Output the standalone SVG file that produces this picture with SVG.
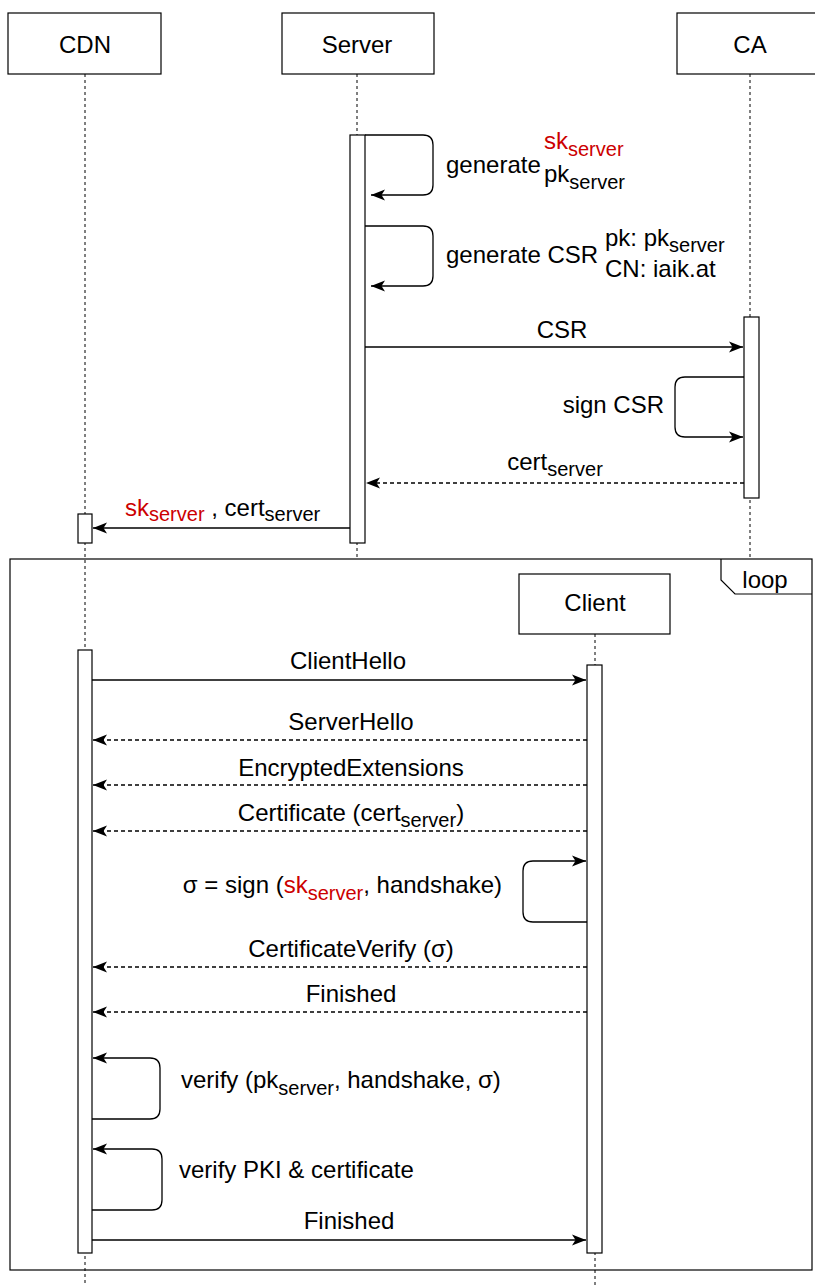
<svg xmlns="http://www.w3.org/2000/svg" width="815" height="1285" viewBox="0 0 815 1285">
  <style>
    text { font-family: "Liberation Sans", Arial, Helvetica, sans-serif; font-size: 24px; fill: #000; }
    .mid { text-anchor: middle; }
    .end { text-anchor: end; }
    .sub { font-size: 20px; }
    .red { fill: #cc0000; }
    .box { fill: #fff; stroke: #000; stroke-width: 1.2; }
    .life { fill: none; stroke: #000; stroke-width: 1; stroke-dasharray: 3 3; }
    .msg { fill: none; stroke: #000; stroke-width: 1.3; }
    .ret { fill: none; stroke: #000; stroke-width: 1.3; stroke-dasharray: 4 3; }
  </style>
  <defs>
    <marker id="arrow" markerUnits="userSpaceOnUse" markerWidth="16" markerHeight="14" refX="15" refY="7" orient="auto">
      <path d="M1,1.5 L15,7 L1,12.5 L4.5,7 Z" fill="#000"/>
    </marker>
  </defs>

  <rect width="815" height="1285" fill="#fff"/>

  <!-- lifelines -->
  <g id="lifelines">
    <line class="life" x1="85" y1="74" x2="85" y2="1285"/>
    <line class="life" x1="357" y1="74" x2="357" y2="558"/>
    <line class="life" x1="750" y1="74" x2="750" y2="558"/>
    <line class="life" x1="595" y1="634" x2="595" y2="1285"/>
  </g>

  <!-- participants -->
  <g id="cdn">
    <rect class="box" x="8" y="13" width="153" height="61"/>
    <text class="mid" x="85" y="53">CDN</text>
  </g>
  <g id="server">
    <rect class="box" x="282" y="13" width="152" height="61"/>
    <text class="mid" x="357" y="53">Server</text>
  </g>
  <g id="ca">
    <rect class="box" x="677" y="13" width="140" height="61"/>
    <text class="mid" x="750" y="53">CA</text>
  </g>

  <!-- loop fragment -->
  <g id="loop">
    <rect x="10" y="559" width="802" height="711" fill="none" stroke="#000" stroke-width="1.2"/>
    <path d="M721,559 V580 L735,594 H812" fill="none" stroke="#000" stroke-width="1.2"/>
    <text class="mid" x="765" y="588">loop</text>
  </g>

  <g id="client">
    <rect class="box" x="519" y="574" width="151" height="60"/>
    <text class="mid" x="595" y="611">Client</text>
  </g>

  <!-- activation bars -->
  <g id="activations">
    <rect class="box" x="350" y="135" width="15" height="408"/>
    <rect class="box" x="744" y="317" width="15" height="181"/>
    <rect class="box" x="78" y="514" width="14" height="29"/>
    <rect class="box" x="78" y="650" width="14" height="603"/>
    <rect class="box" x="587" y="665" width="15" height="588"/>
  </g>

  <!-- messages -->
  <g id="connectors">
    <path class="msg" d="M365,135 H423 Q433,135 433,145 V185 Q433,195 423,195 H371" marker-end="url(#arrow)"/>
    <path class="msg" d="M365,226 H423 Q433,226 433,236 V276 Q433,286 423,286 H371" marker-end="url(#arrow)"/>
    <line class="msg" x1="365" y1="347" x2="743" y2="347" marker-end="url(#arrow)"/>
    <path class="msg" d="M744,377 H685 Q675,377 675,387 V427 Q675,437 685,437 H743" marker-end="url(#arrow)"/>
    <line class="ret" x1="744" y1="483" x2="366" y2="483" marker-end="url(#arrow)"/>
    <line class="msg" x1="350" y1="528" x2="93" y2="528" marker-end="url(#arrow)"/>

    <line class="msg" x1="92" y1="680" x2="586" y2="680" marker-end="url(#arrow)"/>
    <line class="ret" x1="587" y1="740" x2="93" y2="740" marker-end="url(#arrow)"/>
    <line class="ret" x1="587" y1="785" x2="93" y2="785" marker-end="url(#arrow)"/>
    <line class="ret" x1="587" y1="831" x2="93" y2="831" marker-end="url(#arrow)"/>
    <path class="msg" d="M587,922 H533 Q523,922 523,912 V871 Q523,861 533,861 H586" marker-end="url(#arrow)"/>
    <line class="ret" x1="587" y1="967" x2="93" y2="967" marker-end="url(#arrow)"/>
    <line class="ret" x1="587" y1="1012" x2="93" y2="1012" marker-end="url(#arrow)"/>
    <path class="msg" d="M92,1119 H150 Q160,1119 160,1109 V1068 Q160,1058 150,1058 H93" marker-end="url(#arrow)"/>
    <path class="msg" d="M92,1210 H152 Q162,1210 162,1200 V1159 Q162,1149 152,1149 H93" marker-end="url(#arrow)"/>
    <line class="msg" x1="92" y1="1240" x2="586" y2="1240" marker-end="url(#arrow)"/>
  </g>

  <!-- message labels -->
  <g id="labels">
    <text x="446" y="173">generate</text>
    <text class="red" x="544" y="149">sk<tspan class="sub" dy="7">server</tspan></text>
    <text x="544" y="182">pk<tspan class="sub" dy="7">server</tspan></text>

    <text x="446" y="263">generate CSR</text>
    <text x="605" y="246">pk: pk<tspan class="sub" dy="6">server</tspan></text>
    <text x="605" y="277">CN: iaik.at</text>

    <text class="mid" x="562" y="338">CSR</text>
    <text class="end" x="664" y="413">sign CSR</text>
    <text class="mid" x="555" y="470">cert<tspan class="sub" dy="6">server</tspan></text>

    <text x="125" y="516"><tspan class="red">sk</tspan><tspan class="sub red" dy="5">server</tspan><tspan dy="-5"> , cert</tspan><tspan class="sub" dy="5">server</tspan></text>

    <text class="mid" x="348" y="669">ClientHello</text>
    <text class="mid" x="351" y="730">ServerHello</text>
    <text class="mid" x="351" y="776">EncryptedExtensions</text>
    <text class="mid" x="351" y="821">Certificate (cert<tspan class="sub" dy="6">server</tspan><tspan dy="-6">)</tspan></text>

    <text class="end" x="502" y="893">σ = sign (<tspan class="red">sk</tspan><tspan class="sub red" dy="7">server</tspan><tspan dy="-7">, handshake)</tspan></text>

    <text class="mid" x="351" y="957">CertificateVerify (σ)</text>
    <text class="mid" x="351" y="1002">Finished</text>

    <text x="181" y="1088">verify (pk<tspan class="sub" dy="7">server</tspan><tspan dy="-7">, handshake, σ)</tspan></text>
    <text x="179" y="1178">verify PKI &amp; certificate</text>

    <text class="mid" x="349" y="1229">Finished</text>
  </g>
</svg>
